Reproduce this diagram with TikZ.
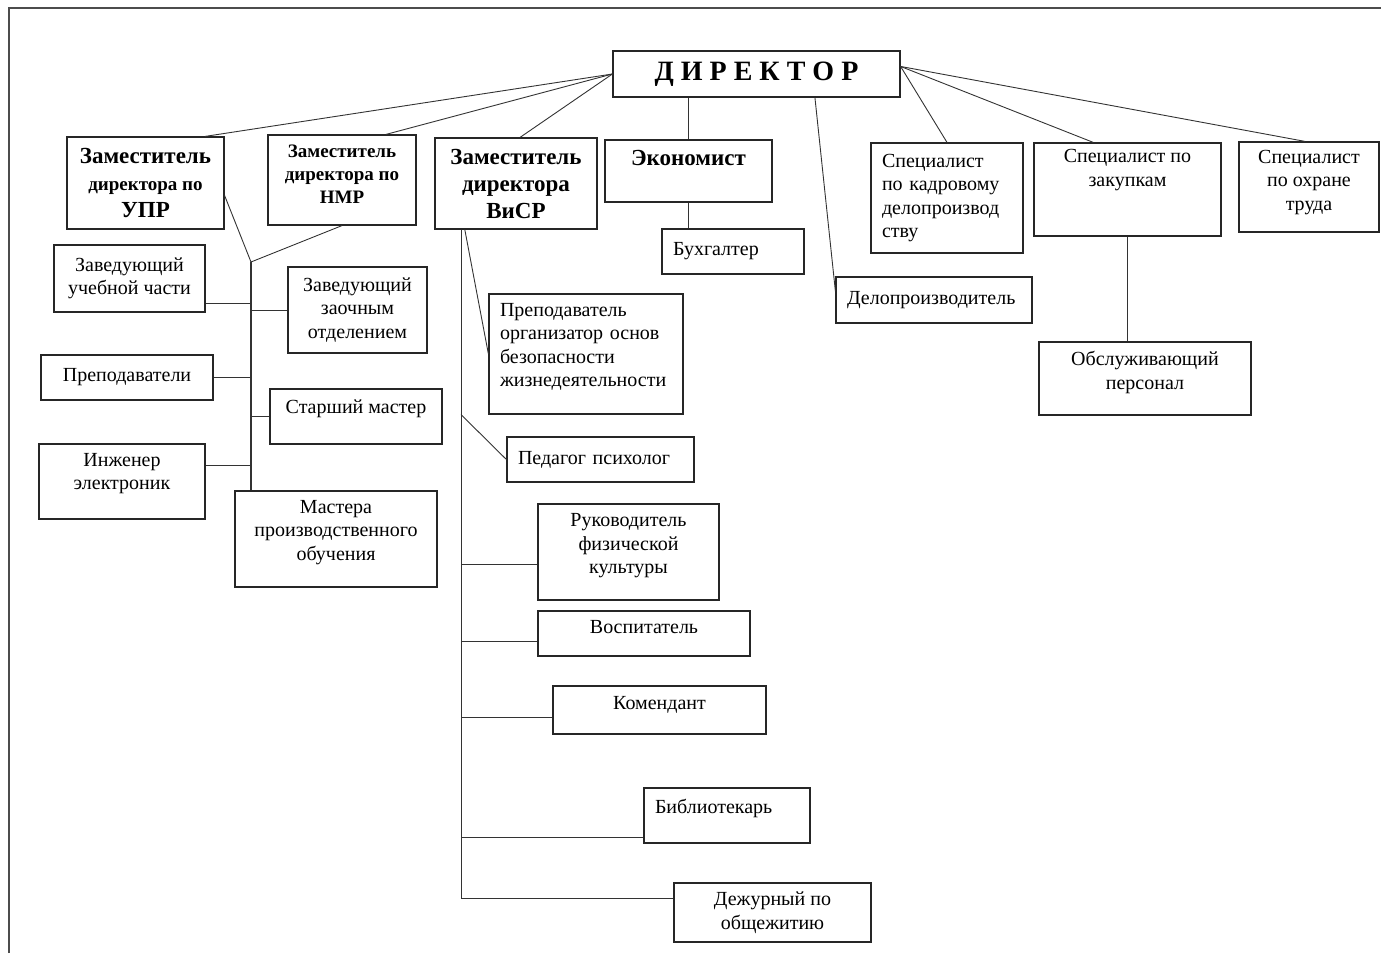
\documentclass[tikz,border=0pt]{standalone}
\usepackage{fontspec}
\setmainfont{Liberation Serif}
\usetikzlibrary{calc}

\begin{document}
\begin{tikzpicture}[x=1pt, y=-1pt,
  post/.style={draw=black!85, line width=1.2pt, inner xsep=11pt, inner ysep=2pt,
    align=center, font=\fontsize{20}{23.5}\selectfont},
  lpost/.style={post, align=left},
  head/.style={post, font=\bfseries\fontsize{23}{27}\selectfont},
  link/.style={draw=black!80, line width=0.9pt}]
  \useasboundingbox (0,0) rectangle (1381,953);
  \draw[black!70, line width=1.6pt] (9,953) -- (9,8) -- (1381,8);

  \node[head, minimum width=287pt, minimum height=46pt, font=\bfseries\fontsize{28}{32}\selectfont] (dir) at (756.5,74) {Д И Р Е К Т О Р};

  \node[head, minimum width=157pt, minimum height=92pt] (upr) at (145.5,183) {Заместитель\\{\fontsize{19}{27}\selectfont директора по}\\УПР};
  \node[head, minimum width=148pt, minimum height=90pt, font=\bfseries\fontsize{19}{23}\selectfont] (nmr) at (342,180) {Заместитель\\директора по\\НМР\\[-11pt]\mbox{}};
  \node[head, minimum width=162pt, minimum height=91pt] (visr) at (516,183.5) {Заместитель\\директора\\ВиСР};
  \node[head, minimum width=167pt, minimum height=62pt] (econ) at (688.5,171) {Экономист\\\mbox{}};
  \node[lpost, minimum width=142pt, minimum height=45pt, text width=120pt] (buh) at (733,251.5) {Бухгалтер};
  \node[lpost, minimum width=152pt, minimum height=110pt, text width=130pt] (kadr) at (947,198) {Специалист\\по кадровому\\делопроизвод\\ству};
  \node[post, minimum width=187pt, minimum height=93pt] (zakup) at (1127.5,189.5) {Специалист по\\закупкам\\[20pt]\mbox{}};
  \node[post, minimum width=140pt, minimum height=90pt] (ohr) at (1309,187) {Специалист\\по охране\\труда\\[-10pt]\mbox{}};
  \node[lpost, minimum width=196pt, minimum height=46pt, text width=174pt] (delo) at (934,300) {Делопроизводитель};
  \node[post, minimum width=212pt, minimum height=73pt] (obsl) at (1145,378.5) {Обслуживающий\\персонал\\[-7pt]\mbox{}};

  \node[post, minimum width=151pt, minimum height=67pt] (zuch) at (129.5,278.5) {Заведующий\\учебной части};
  \node[post, minimum width=139pt, minimum height=86pt] (zzaoch) at (357.5,310) {Заведующий\\заочным\\отделением};
  \node[post, minimum width=172pt, minimum height=45pt] (prep) at (127,377.5) {Преподаватели};
  \node[post, minimum width=172pt, minimum height=55pt] (stm) at (356,416.5) {Старший мастер\\[-3pt]\mbox{}};
  \node[post, minimum width=166pt, minimum height=75pt] (inzh) at (122,481.5) {Инженер\\электроник\\[-3pt]\mbox{}};
  \node[post, minimum width=202pt, minimum height=96pt] (mast) at (336,539) {Мастера\\производственного\\обучения\\[-6pt]\mbox{}};

  \node[lpost, minimum width=194pt, minimum height=120pt, text width=172pt] (obzh) at (586,354) {Преподаватель\\организатор основ\\безопасности\\жизнедеятельности\\[-5pt]\mbox{}};
  \node[lpost, minimum width=187pt, minimum height=45pt, text width=165pt] (psih) at (600.5,459.5) {Педагог психолог};
  \node[post, minimum width=181pt, minimum height=96pt] (fiz) at (628.5,552) {Руководитель\\физической\\культуры\\[-7pt]\mbox{}};
  \node[post, minimum width=212pt, minimum height=45pt] (vosp) at (644,633.5) {Воспитатель\\[-11pt]\mbox{}};
  \node[post, minimum width=213pt, minimum height=48pt] (kom) at (659.5,710) {Комендант\\[-9pt]\mbox{}};
  \node[lpost, minimum width=166pt, minimum height=55pt, text width=144pt] (bib) at (727,815.5) {Библиотекарь\\[-5pt]\mbox{}};
  \node[post, minimum width=197pt, minimum height=59pt] (dezh) at (772.5,912.5) {Дежурный по\\общежитию};

  \draw[link] (dir.west) -- (upr.38);
  \draw[link] (dir.west) -- (nmr.46);
  \draw[link] (dir.west) -- (visr.85);
  \draw[link] (econ.north) -- (econ.north |- dir.south);
  \draw[link] (econ.south) -- (econ.south |- buh.north);
  \draw[link] (dir.-22) -- (delo.175);
  \draw[link] (dir.3) -- (kadr.north);
  \draw[link] (dir.3) -- (zakup.126);
  \draw[link] (dir.3) -- (ohr.95);
  \draw[link] (zakup.south) -- (zakup.south |- obsl.north);

  \coordinate (jupr) at (251,262);
  \draw[link] (upr.-9) -- (jupr) -- (nmr.south);
  \draw[link, line width=1.3pt] (jupr) -- (jupr |- mast.north);
  \draw[link] (zuch.-18) -- (zuch.-18 -| jupr);
  \draw[link] (zzaoch.west) -- (zzaoch.west -| jupr);
  \draw[link] (prep.east) -- (prep.east -| jupr);
  \draw[link] (stm.west) -- (stm.west -| jupr);
  \draw[link] (inzh.11) -- (inzh.11 -| jupr);

  \draw[link] (visr.220) |- (dezh.172);
  \draw[link] (visr.222) -- (obzh.west);
  \draw[link] (visr.220 |- obzh.south) -- (psih.west);
  \draw[link] (fiz.188 -| visr.220) -- (fiz.188);
  \draw[link] (vosp.184 -| visr.220) -- (vosp.184);
  \draw[link] (kom.184 -| visr.220) -- (kom.184);
  \draw[link] (bib.195 -| visr.220) -- (bib.195);
\end{tikzpicture}
\end{document}
